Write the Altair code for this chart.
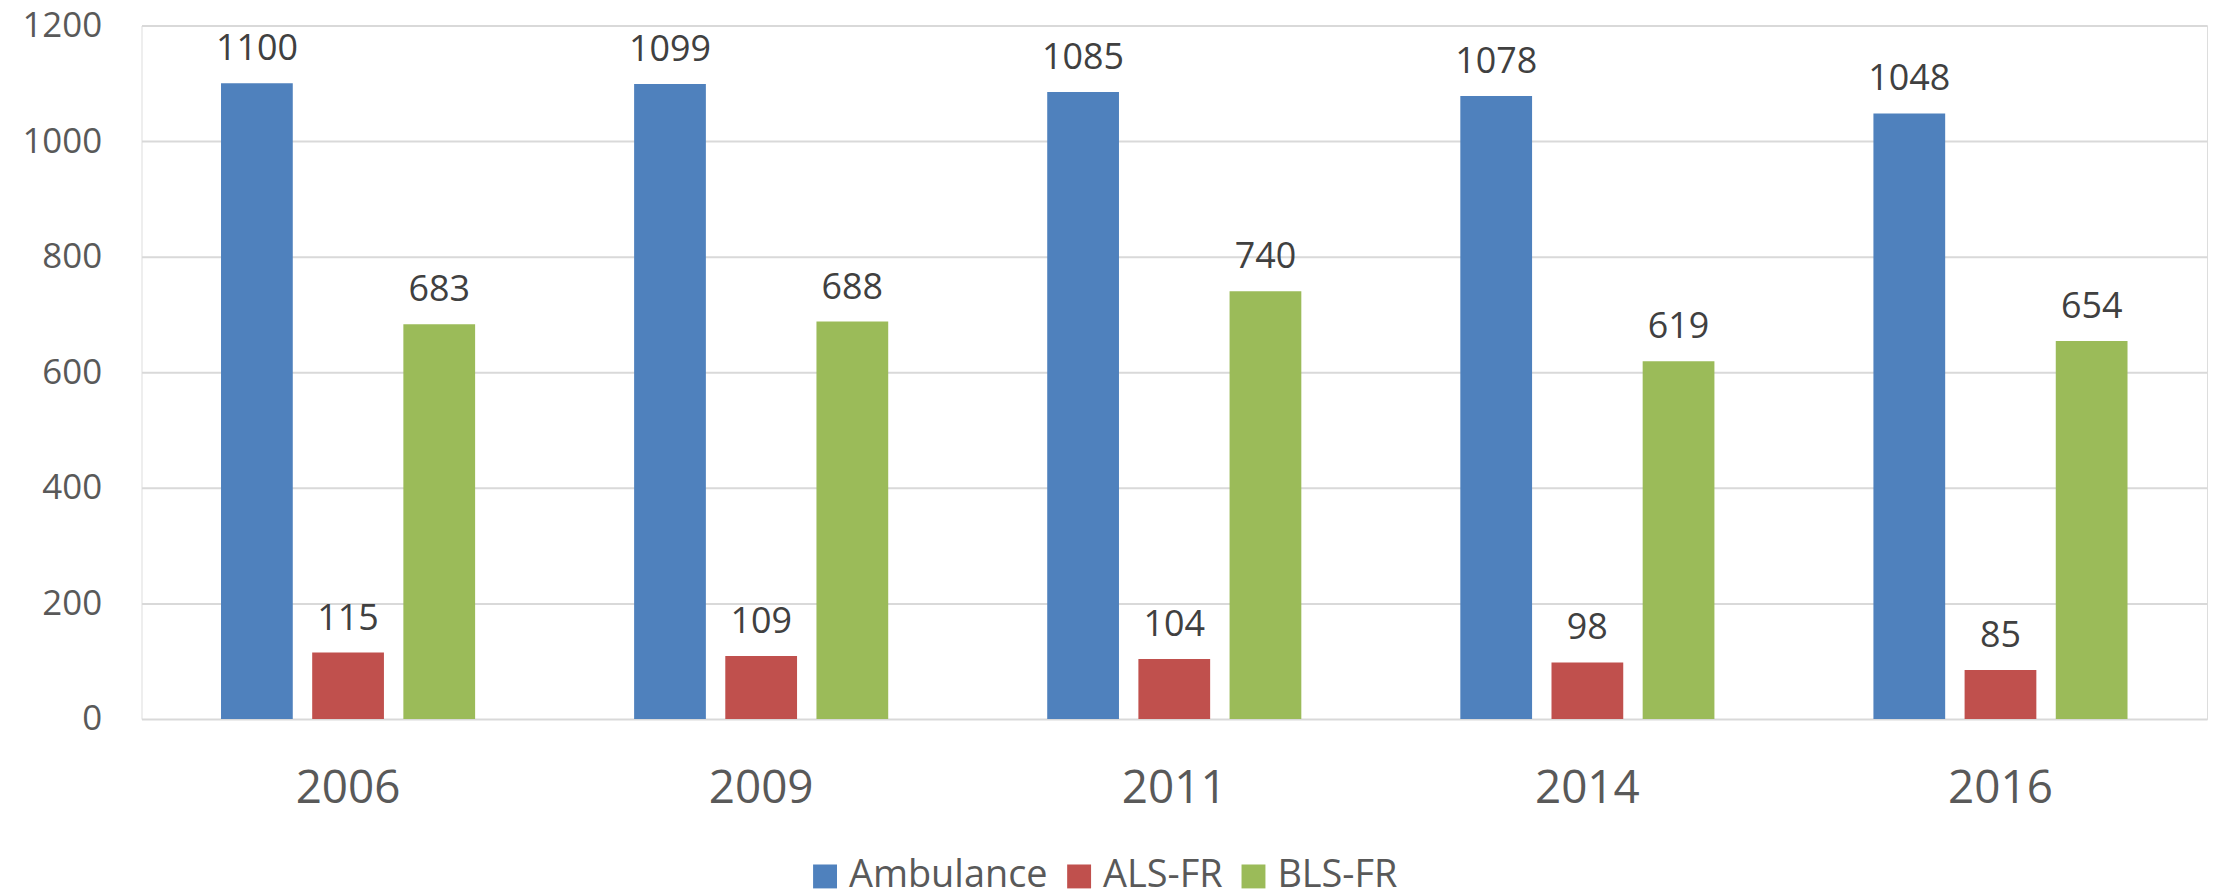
import altair as alt
import pandas as pd

years = ["2006", "2009", "2011", "2014", "2016"]
series = ["Ambulance", "ALS-FR", "BLS-FR"]
ambulance = [1100, 1099, 1085, 1078, 1048]
als_fr = [115, 109, 104, 98, 85]
bls_fr = [683, 688, 740, 619, 654]
colors = ["#4F81BD", "#C0504D", "#9BBB59"]

rows = []
for i, y in enumerate(years):
    for s, vals in zip(series, [ambulance, als_fr, bls_fr]):
        rows.append({"year": y, "series": s, "value": vals[i]})
df = pd.DataFrame(rows)

FONT = "Open Sans"

x = alt.X("year:N", sort=years, title=None,
          scale=alt.Scale(paddingInner=0, paddingOuter=0),
          axis=alt.Axis(labelAngle=0, labelFontSize=46, labelColor="#595959",
                        labelFont=FONT, labelPadding=48, domain=False, ticks=False,
                        grid=False))
xo = alt.XOffset("series:N", sort=series,
                 scale=alt.Scale(paddingInner=0.213, paddingOuter=0.872))
y = alt.Y("value:Q", title=None,
          scale=alt.Scale(domain=[0, 1200], nice=False),
          axis=alt.Axis(values=[0, 200, 400, 600, 800, 1000, 1200], format="d",
                        labelFontSize=35, labelColor="#595959", labelFont=FONT,
                        labelPadding=40, domain=False, ticks=False,
                        gridColor="#D9D9D9", gridWidth=2))

bars = alt.Chart(df).mark_bar().encode(
    x=x, xOffset=xo, y=y,
    color=alt.Color("series:N", sort=series,
                    scale=alt.Scale(domain=series, range=colors),
                    legend=alt.Legend(title=None, orient="none", direction="horizontal",
                                      legendX=667, legendY=835,
                                      symbolType="square", symbolSize=576,
                                      symbolStrokeWidth=0,
                                      labelFontSize=38, labelFont=FONT,
                                      labelColor="#595959", labelOffset=5,
                                      labelLimit=0, columnPadding=12)),
)

labels = alt.Chart(df).mark_text(baseline="alphabetic", dy=-23, fontSize=36,
                                 font=FONT, color="#404040").encode(
    x=x, xOffset=xo, y=y, text=alt.Text("value:Q"),
)

chart = alt.layer(bars, labels).properties(
    width=2073, height=696,
    autosize=alt.AutoSizeParams(type="none"),
    padding={"left": 134, "top": 16, "right": 6, "bottom": 170},
).configure_view(stroke=None).configure(background="white")

chart.save("out.html", embed_options={"renderer": "svg", "actions": False})
